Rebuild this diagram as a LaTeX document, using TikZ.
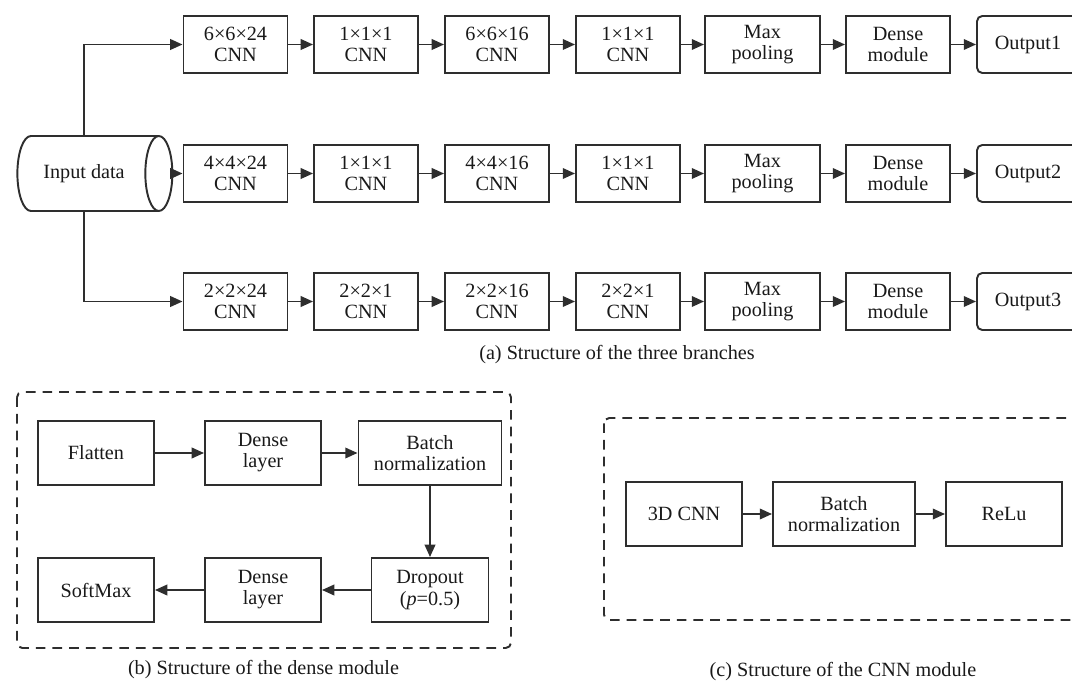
\documentclass[tikz,border=0pt]{standalone}
\usepackage{fontspec}
\setmainfont{Liberation Serif}
\usetikzlibrary{arrows.meta,shapes.geometric}
\definecolor{linec}{HTML}{2E2E2E}

\begin{document}
\begin{tikzpicture}[x=0.02cm,y=-0.02cm,
    blk/.style={draw=linec,line width=1.1pt,minimum height=1.14cm,minimum width=2.08cm,
      align=center,inner sep=1pt,font=\fontsize{11.5}{12}\selectfont,text=black!90},
    modblk/.style={blk,minimum height=1.28cm,minimum width=2.32cm},
    outblk/.style={blk,rounded corners=3pt,minimum width=2.04cm},
    arr/.style={draw=linec,line width=1.1pt,-{Triangle[length=7pt,width=6pt]}},
    dashbox/.style={draw=linec,line width=1.1pt,dash pattern=on 5.5pt off 4pt,rounded corners=3pt},
    captext/.style={font=\fontsize{11.5}{12}\selectfont,text=black!90}]
    \useasboundingbox (0,0) rectangle (1072,682);
    \clip (0,0) rectangle (1072,682);

    % (a) three branches
    \node[cylinder,draw=linec,line width=1.1pt,aspect=0.9,minimum height=3.1cm,minimum width=1.5cm,
      font=\fontsize{11.5}{12}\selectfont,text=black!90] (input) at (84,173.5) {Input data};

    \node[blk] (a1) at (235.5,44.5) {6×6×24\\CNN};
    \node[blk] (a2) at (366,44.5) {1×1×1\\CNN};
    \node[blk] (a3) at (497,44.5) {6×6×16\\CNN};
    \node[blk] (a4) at (628,44.5) {1×1×1\\CNN};
    \node[blk,minimum width=2.3cm] (a5) at (762.5,44.5) {Max\\pooling};
    \node[blk] (a6) at (898,44.5) {Dense\\module};
    \node[outblk] (a7) at (1028,44.5) {Output1};

    \node[blk] (b1) at (235.5,173.5) {4×4×24\\CNN};
    \node[blk] (b2) at (366,173.5) {1×1×1\\CNN};
    \node[blk] (b3) at (497,173.5) {4×4×16\\CNN};
    \node[blk] (b4) at (628,173.5) {1×1×1\\CNN};
    \node[blk,minimum width=2.3cm] (b5) at (762.5,173.5) {Max\\pooling};
    \node[blk] (b6) at (898,173.5) {Dense\\module};
    \node[outblk] (b7) at (1028,173.5) {Output2};

    \node[blk] (c1) at (235.5,301.5) {2×2×24\\CNN};
    \node[blk] (c2) at (366,301.5) {2×2×1\\CNN};
    \node[blk] (c3) at (497,301.5) {2×2×16\\CNN};
    \node[blk] (c4) at (628,301.5) {2×2×1\\CNN};
    \node[blk,minimum width=2.3cm] (c5) at (762.5,301.5) {Max\\pooling};
    \node[blk] (c6) at (898,301.5) {Dense\\module};
    \node[outblk] (c7) at (1028,301.5) {Output3};

    \draw[arr] (input.north) |- (a1);
    \draw[arr] (input.east) -- (b1);
    \draw[arr] (input.south) |- (c1);

    \draw[arr] (a1) -- (a2);
    \draw[arr] (a2) -- (a3);
    \draw[arr] (a3) -- (a4);
    \draw[arr] (a4) -- (a5);
    \draw[arr] (a5) -- (a6);
    \draw[arr] (a6) -- (a7);

    \draw[arr] (b1) -- (b2);
    \draw[arr] (b2) -- (b3);
    \draw[arr] (b3) -- (b4);
    \draw[arr] (b4) -- (b5);
    \draw[arr] (b5) -- (b6);
    \draw[arr] (b6) -- (b7);

    \draw[arr] (c1) -- (c2);
    \draw[arr] (c2) -- (c3);
    \draw[arr] (c3) -- (c4);
    \draw[arr] (c4) -- (c5);
    \draw[arr] (c5) -- (c6);
    \draw[arr] (c6) -- (c7);

    \node[captext] (capa) at (617,355) {(a) Structure of the three branches};

    % (b) dense module
    \draw[dashbox] (17,392) rectangle (511,648);
    \node[modblk] (flat) at (96,453) {Flatten};
    \node[modblk] (dense1) at (263,453) {Dense\\layer};
    \node[modblk,minimum width=2.86cm] (bn1) at (430,453) {Batch\\normalization};
    \node[modblk,minimum width=2.34cm] (drop) at (430,590) {Dropout\\(\textit{p}=0.5)};
    \node[modblk] (dense2) at (263,590) {Dense\\layer};
    \node[modblk] (soft) at (96,590) {SoftMax};

    \draw[arr] (flat) -- (dense1);
    \draw[arr] (dense1) -- (bn1);
    \draw[arr] (bn1) -- (drop);
    \draw[arr] (drop) -- (dense2);
    \draw[arr] (dense2) -- (soft);

    \node[captext] (capb) at (263.5,670) {(b) Structure of the dense module};

    % (c) CNN module
    \draw[dashbox] (604,418) rectangle (1090,620);
    \node[modblk] (cnn3d) at (684,514) {3D CNN};
    \node[modblk,minimum width=2.84cm] (bn2) at (844,514) {Batch\\normalization};
    \node[modblk] (relu) at (1004,514) {ReLu};

    \draw[arr] (cnn3d) -- (bn2);
    \draw[arr] (bn2) -- (relu);

    \node[captext] (capc) at (843,672) {(c) Structure of the CNN module};
\end{tikzpicture}
\end{document}
